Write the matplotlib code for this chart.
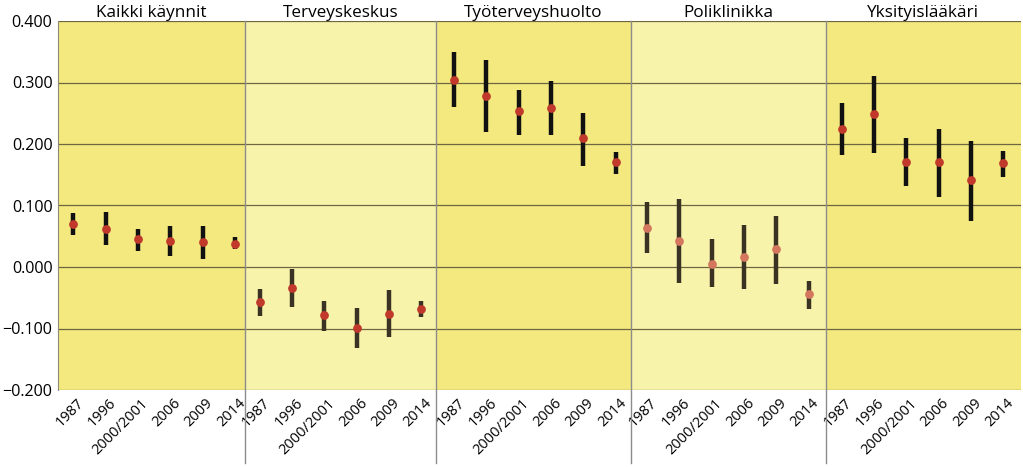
import matplotlib
matplotlib.use("Agg")
import matplotlib.pyplot as plt
from matplotlib.lines import Line2D
import numpy as np

plt.rcParams['font.family'] = ['Open Sans', 'DejaVu Sans']

panels = ["Kaikki käynnit", "Terveyskeskus", "Työterveyshuolto", "Poliklinikka", "Yksityislääkäri"]
years = ["1987", "1996", "2000/2001", "2006", "2009", "2014"]

est = [
    [0.070, 0.062, 0.045, 0.043, 0.041, 0.038],
    [-0.057, -0.034, -0.078, -0.099, -0.076, -0.069],
    [0.304, 0.278, 0.253, 0.258, 0.209, 0.170],
    [0.063, 0.042, 0.005, 0.017, 0.029, -0.044],
    [0.225, 0.249, 0.171, 0.170, 0.141, 0.169],
]
upper = [
    [0.087, 0.089, 0.062, 0.067, 0.067, 0.048],
    [-0.036, -0.004, -0.055, -0.066, -0.037, -0.056],
    [0.349, 0.337, 0.288, 0.302, 0.251, 0.187],
    [0.105, 0.110, 0.045, 0.069, 0.083, -0.022],
    [0.267, 0.311, 0.210, 0.224, 0.205, 0.189],
]
lower = [
    [0.052, 0.036, 0.026, 0.018, 0.013, 0.029],
    [-0.080, -0.065, -0.104, -0.131, -0.114, -0.082],
    [0.260, 0.219, 0.215, 0.215, 0.165, 0.151],
    [0.022, -0.026, -0.032, -0.036, -0.027, -0.068],
    [0.182, 0.185, 0.132, 0.114, 0.075, 0.147],
]

bg_colors = ["#F3E97E", "#F8F3AA", "#F3E97E", "#F8F3AA", "#F3E97E"]
bar_colors = ["#111111", "#3A3222", "#111111", "#3A3222", "#111111"]
pt_colors = ["#C0392B", "#C0392B", "#C0392B", "#D4775E", "#C0392B"]
xlims = [(-0.47, 5.31), (-0.46, 5.46), (-0.55, 5.46), (-0.5, 5.53), (-0.49, 5.55)]

fig = plt.figure(figsize=(10.23, 4.67), dpi=100)
left, right = 58 / 1023, 1021 / 1023
top, bottom = 1 - 21 / 467, 1 - 390 / 467
widths = [b - a for a, b in xlims]
gs = fig.add_gridspec(1, 5, left=left, right=right, top=top, bottom=bottom,
                      wspace=0, width_ratios=widths)

yticks = np.arange(-0.2, 0.41, 0.1)
for p in range(5):
    ax = fig.add_subplot(gs[0, p])
    ax.set_facecolor(bg_colors[p])
    x = np.arange(len(years))
    e = np.array(est[p]); u = np.array(upper[p]); l = np.array(lower[p])
    ax.vlines(x, l, u, color=bar_colors[p], lw=3.2, zorder=3)
    ax.plot(x, e, 'o', color=pt_colors[p], ms=6.3, mec='none', zorder=4)
    ax.set_xlim(*xlims[p])
    ax.set_ylim(-0.2, 0.4)
    ax.set_yticks(yticks)
    ax.yaxis.grid(True, color="#6E6640", lw=0.9)
    ax.set_axisbelow(True)
    for s in ax.spines.values():
        s.set_visible(False)
    if p == 0:
        ax.spines['left'].set_visible(True)
        ax.spines['left'].set_color("#8A8A7A")
        ax.set_yticklabels([f"{v:.3f}".replace("-", "\u2212") if abs(v) > 1e-9 else "0.000" for v in yticks],
                           fontsize=11.6)
    else:
        ax.tick_params(labelleft=False)
    ax.tick_params(axis='both', length=0, pad=4)
    ax.set_xticks(x)
    ax.set_xticklabels(years, rotation=45, ha='right', va='top', rotation_mode='anchor', fontsize=10.5)
    for lab in ax.get_xticklabels():
        lab.set_transform(lab.get_transform() + matplotlib.transforms.ScaledTranslation(3 / 100, 0, fig.dpi_scale_trans))
    ax.set_title(panels[p], fontsize=12.3, pad=3)

# dividers
edges = np.cumsum([0] + widths) / sum(widths)
for ed in edges[1:-1]:
    xf = left + ed * (right - left)
    fig.add_artist(Line2D([xf, xf], [top, 1 - 463 / 467], color="#8C8C8C", lw=1))

fig.savefig("out.png", dpi=100)
